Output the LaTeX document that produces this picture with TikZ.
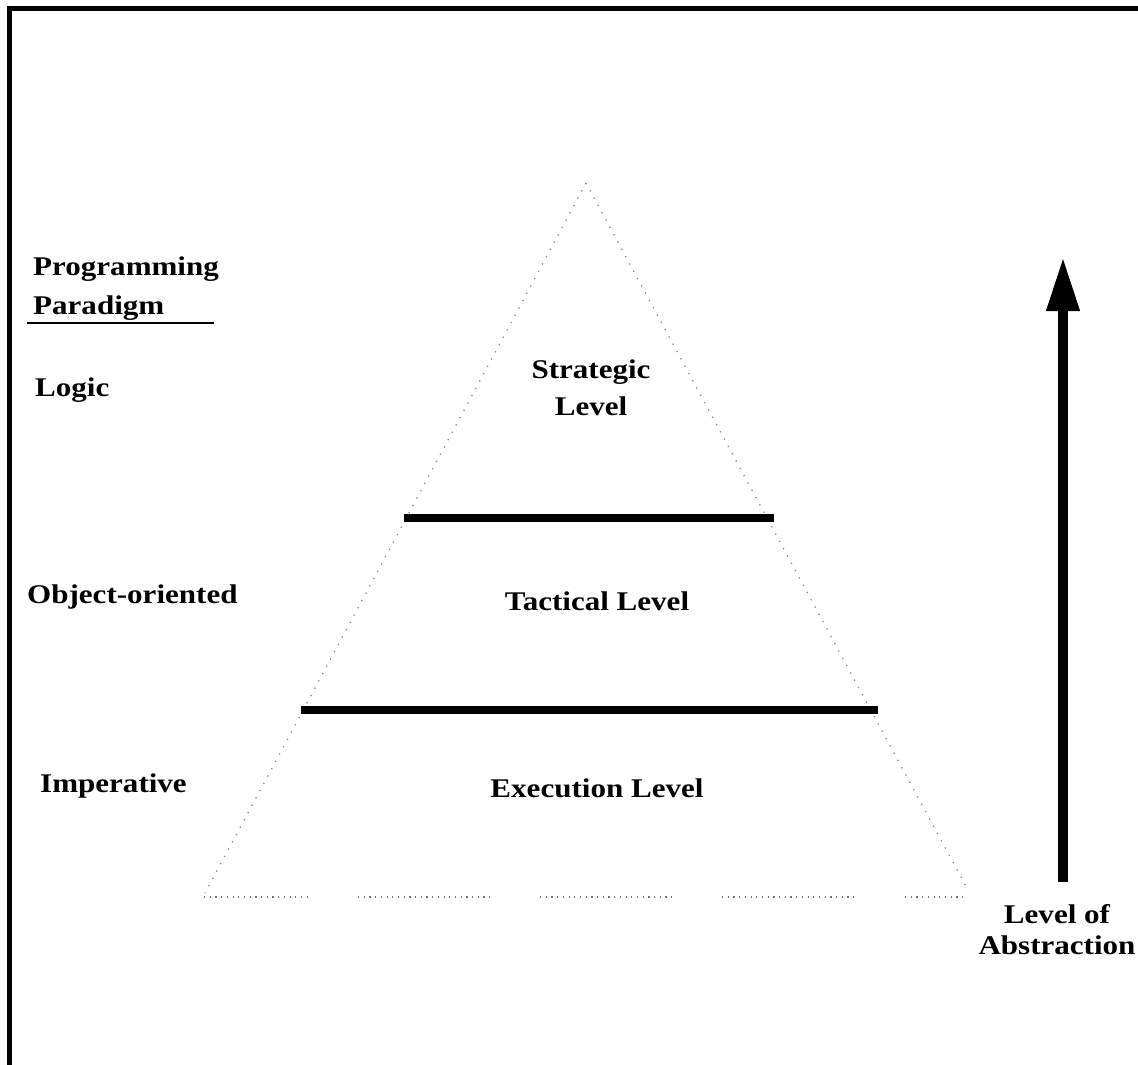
\documentclass[tikz,border=0pt]{standalone}
\usepackage{fontspec}
\usetikzlibrary{arrows.meta}
\newfontfamily\lblfont{Liberation Serif}[FakeStretch=1.15]
\begin{document}
\begin{tikzpicture}[x=1pt,y=-1pt,
  lbl/.style={inner sep=0pt, font=\lblfont\bfseries\fontsize{27}{38}\selectfont},
  side/.style={draw=black!45, line width=1.3pt, dash pattern=on 1.3pt off 7pt},
  basedots/.style={draw=black!55, line width=1.2pt, dash pattern=on 1.2pt off 4.5pt},
  divider/.style={line width=8.5pt, draw=black},
  frame/.style={line width=5pt, draw=black}]
\useasboundingbox (0,0) rectangle (1138,1065);

% open frame: left and top edges
\coordinate (fbl) at (9.5,1065);
\coordinate (ftl) at (9.5,9);
\coordinate (ftr) at (1138,9);
\draw[frame] (fbl) -- (ftl) -- (ftr);

% pyramid outline
\coordinate (apex) at (586,183);
\coordinate (bl) at (205,893);
\coordinate (br) at (968,890);
\draw[side] (apex) -- (bl);
\draw[side] (apex) -- (br);
\foreach \a/\b [count=\i] in {204/312, 358/493, 540/675, 722/857, 905/966}{
  \coordinate (b\i a) at (\a,897);
  \coordinate (b\i b) at (\b,897);
  \draw[basedots] (b\i a) -- (b\i b);
}

% level dividers
\coordinate (d1l) at (404,518);
\coordinate (d1r) at (774,518);
\coordinate (d2l) at (301,710);
\coordinate (d2r) at (878,710);
\draw[divider] (d1l) -- (d1r);
\draw[divider] (d2l) -- (d2r);

% level names
\node[lbl, align=center, anchor=north] (strat) at (591,360) {Strategic\\[-1pt]Level};
\node[lbl, anchor=base] (tact) at (597,610) {Tactical Level};
\node[lbl, anchor=base] (exec) at (597,797) {Execution Level};

% paradigm column
\node[lbl, align=left, anchor=north west] (para) at (33,257) {Programming\\[1pt]Paradigm};
\coordinate (ul1) at (27,323);
\coordinate (ul2) at (214,323);
\draw[line width=2.5pt] (ul1) -- (ul2);
\node[lbl, anchor=base west] (logic) at (35,396) {Logic};
\node[lbl, anchor=base west] (oo) at (27,603) {Object-oriented};
\node[lbl, anchor=base west] (imp) at (40,792) {Imperative};

% abstraction arrow
\coordinate (arb) at (1063,882);
\coordinate (art) at (1063,257);
\draw[line width=10pt, -{Triangle[width=31pt, length=54pt]}] (arb) -- (art);
\node[lbl, align=center, anchor=north, font=\lblfont\bfseries\fontsize{27}{31}\selectfont] (abs) at (1057,904) {Level of\\Abstraction};
\end{tikzpicture}
\end{document}
